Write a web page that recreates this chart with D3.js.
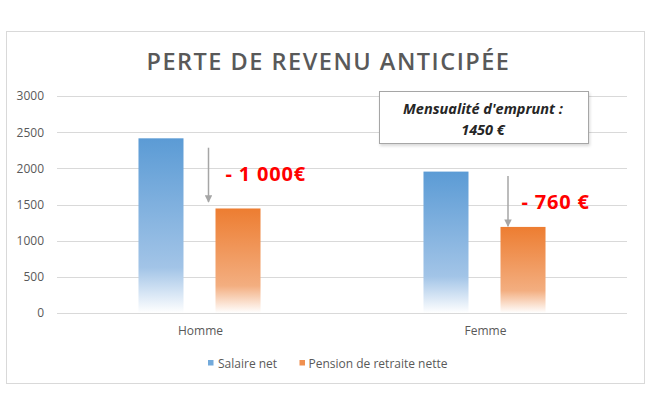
<!DOCTYPE html>
<html>
<head>
<meta charset="utf-8">
<script src="https://cdn.jsdelivr.net/npm/d3@7"></script>
<style>
  html, body { margin: 0; padding: 0; background: #fff; }
  svg { display: block; }
  text { font-family: "Open Sans", "DejaVu Sans", sans-serif; }
</style>
</head>
<body>
<svg id="chart" width="652" height="408"></svg>
<script>
// ---- data ----
const categories = ["Homme", "Femme"];
const seriesNames = ["Salaire net", "Pension de retraite nette"];
const salaireNet = [2415, 1955];
const pensionNette = [1445, 1190];
const yTicks = [0, 500, 1000, 1500, 2000, 2500, 3000];
const lossLabels = ["- 1 000€", "- 760 €"];
const titleText = "PERTE DE REVENU ANTICIPÉE";
const boxLines = ["Mensualité d'emprunt :", "1450  €"];

// ---- layout ----
const W = 652, H = 408;
const plot = { left: 57, right: 627, top: 96, bottom: 313 };
const svg = d3.select("#chart");

const colors = ["#5B9BD5", "#ED7D31"];
const light  = ["#A2C4E7", "#F3AE80"];

// gradients
const defs = svg.append("defs");
colors.forEach((c, i) => {
  const g = defs.append("linearGradient").attr("id", "grad" + i)
    .attr("x1", 0).attr("y1", 0).attr("x2", 0).attr("y2", 1);
  g.append("stop").attr("offset", "0%").attr("stop-color", c);
  g.append("stop").attr("offset", "74%").attr("stop-color", light[i]);
  g.append("stop").attr("offset", "100%").attr("stop-color", "#FFFFFF");
});
const shadow = defs.append("filter").attr("id", "shadow")
  .attr("x", "-10%").attr("y", "-10%").attr("width", "130%").attr("height", "140%");
shadow.append("feDropShadow").attr("dx", 1).attr("dy", 2).attr("stdDeviation", 1.5)
  .attr("flood-color", "#000").attr("flood-opacity", 0.15);
const arrowM = defs.append("marker").attr("id", "arrowhead")
  .attr("viewBox", "0 0 10 10").attr("refX", 9).attr("refY", 5)
  .attr("markerWidth", 5).attr("markerHeight", 5).attr("orient", "auto")
  .attr("markerUnits", "strokeWidth");
arrowM.append("path").attr("d", "M0,0 L10,5 L0,10 Z").attr("fill", "#A6A6A6");

// outer frame
svg.append("rect").attr("x", 6.5).attr("y", 31.5).attr("width", 638).attr("height", 352)
  .attr("fill", "#fff").attr("stroke", "#D9D9D9").attr("stroke-width", 1);

// scales
const x0 = d3.scaleBand().domain(categories).range([plot.left, plot.right]).padding(0);
const x1 = d3.scaleBand().domain([0, 1]).range([0, x0.bandwidth()])
  .paddingInner(0.4156).paddingOuter(1.058);
const y = d3.scaleLinear().domain([0, 3000]).range([plot.bottom, plot.top]);

// gridlines
svg.append("g").selectAll("line").data(yTicks).join("line")
  .attr("x1", plot.left).attr("x2", plot.right)
  .attr("y1", d => Math.round(y(d)) + 0.5).attr("y2", d => Math.round(y(d)) + 0.5)
  .attr("stroke", "#D9D9D9").attr("stroke-width", 1);

// y axis labels
const yAxis = d3.axisLeft(y).tickValues(yTicks).tickSize(0).tickPadding(0).tickFormat(d3.format("d"));
const gy = svg.append("g").attr("transform", `translate(${plot.left - 13},0)`).call(yAxis);
gy.select(".domain").remove();
gy.selectAll("text").attr("fill", "#595959").style("font-size", "12px")
  .style("font-family", "'Open Sans', sans-serif");

// x axis labels
const xAxis = d3.axisBottom(x0).tickSize(0).tickPadding(0);
const gx = svg.append("g").attr("transform", `translate(1,${plot.bottom + 13})`).call(xAxis);
gx.select(".domain").remove();
gx.selectAll("text").attr("fill", "#595959").style("font-size", "12px")
  .style("font-family", "'Open Sans', sans-serif");

// bars
const seriesVals = [salaireNet, pensionNette];
const groups = svg.append("g").selectAll("g").data(categories).join("g")
  .attr("transform", d => `translate(${x0(d)},0)`);
groups.selectAll("rect").data((c, ci) => seriesVals.map((s, si) => ({ si, v: s[ci] })))
  .join("rect")
  .attr("x", d => x1(d.si)).attr("width", x1.bandwidth())
  .attr("y", d => y(d.v)).attr("height", d => y(0) - y(d.v))
  .attr("fill", d => `url(#grad${d.si})`);

// arrows and loss labels
const arrowSpec = [
  { xoff: -7, from: salaireNet[0] - 130, to: pensionNette[0] + 90 },
  { xoff: 7.5, from: salaireNet[1] - 60, to: pensionNette[1] + 10 }
];
categories.forEach((c, i) => {
  const ax = x0(c) + x1(1) + arrowSpec[i].xoff;
  svg.append("line")
    .attr("x1", ax).attr("x2", ax)
    .attr("y1", y(arrowSpec[i].from)).attr("y2", y(arrowSpec[i].to))
    .attr("stroke", "#A6A6A6").attr("stroke-width", 1.5)
    .attr("marker-end", "url(#arrowhead)");
  const midY = i === 0 ? y(salaireNet[0]) + 35 : y(salaireNet[1]) + 30;
  svg.append("text")
    .attr("x", ax + (i === 0 ? 17 : 13.5))
    .attr("y", midY)
    .attr("dominant-baseline", "central")
    .attr("fill", "#FF0000")
    .style("font-size", "20px").style("font-weight", "700")
    .style("letter-spacing", "0.8px")
    .text(lossLabels[i]);
});

// title
svg.append("text").attr("x", 328.5).attr("y", 69.5).attr("text-anchor", "middle")
  .attr("fill", "#595959").style("font-size", "23.5px").style("font-weight", "600")
  .style("letter-spacing", "1.5px")
  .text(titleText);

// annotation box
const box = { x: 379.5, y: 91.5, w: 209, h: 52 };
svg.append("rect").attr("x", box.x).attr("y", box.y).attr("width", box.w).attr("height", box.h)
  .attr("fill", "#fff").attr("stroke", "#A6A6A6").attr("stroke-width", 1)
  .attr("filter", "url(#shadow)");
svg.append("g").selectAll("text").data(boxLines).join("text")
  .attr("x", box.x + box.w / 2 - 1)
  .attr("y", (d, i) => box.y + 17 + i * 21)
  .attr("dominant-baseline", "central")
  .attr("text-anchor", "middle").attr("fill", "#262626")
  .style("font-size", "14.5px").style("font-weight", "700").style("font-style", "italic")
  .text(d => d);

// legend
const legendItems = [
  { name: seriesNames[0], sx: 208, tx: 218 },
  { name: seriesNames[1], sx: 299.5, tx: 308.5 }
];
const lg = svg.append("g");
legendItems.forEach((it, i) => {
  lg.append("rect").attr("x", it.sx).attr("y", 360).attr("width", 5.5).attr("height", 5.5)
    .attr("fill", colors[i]).attr("opacity", 0.85);
  lg.append("text").attr("x", it.tx).attr("y", 363).attr("dominant-baseline", "central")
    .attr("fill", "#595959").style("font-size", "12px").text(it.name);
});
</script>
</body>
</html>
